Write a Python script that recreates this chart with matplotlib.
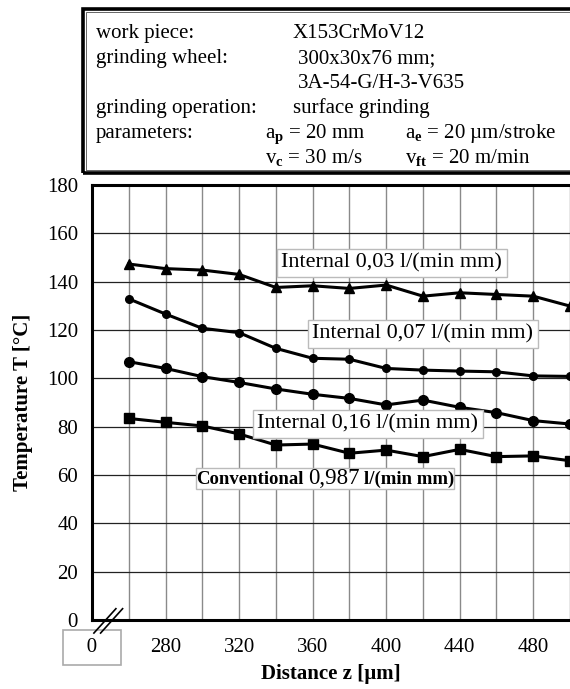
import matplotlib
matplotlib.use("Agg")
import matplotlib.pyplot as plt
from matplotlib.patches import Rectangle
from matplotlib.offsetbox import TextArea, HPacker, AnnotationBbox

plt.rcParams['font.family'] = ['Liberation Serif', 'DejaVu Serif']
plt.rcParams['mathtext.fontset'] = 'custom'
plt.rcParams['mathtext.rm'] = 'Liberation Serif'
plt.rcParams['mathtext.bf'] = 'Liberation Serif:bold'

# distance z in um, temperature in degC
z = [260, 280, 300, 320, 340, 360, 380, 400, 420, 440, 460, 480, 500]
t_int_003 = [147.3, 145.4, 144.8, 143.0, 137.6, 138.3, 137.2, 138.6, 134.0, 135.4, 134.7, 134.0, 129.9]
t_int_007 = [132.9, 126.6, 120.7, 118.9, 112.4, 108.3, 107.9, 104.1, 103.4, 103.0, 102.7, 101.0, 100.8]
t_int_016 = [106.9, 104.1, 100.7, 98.3, 95.6, 93.4, 91.7, 89.0, 91.0, 88.0, 85.8, 82.5, 81.1]
t_conv = [83.4, 81.8, 80.3, 77.0, 72.4, 72.8, 69.0, 70.3, 67.6, 70.6, 67.6, 67.9, 65.9]

xticks = list(range(240, 501, 20))
xticklabels = ['   0   ', '', '280', '', '320', '', '360', '', '400', '', '440', '', '480', '']
yticks = list(range(0, 181, 20))

fig = plt.figure(figsize=(5.7, 6.89), dpi=100)
ax = fig.add_axes([92/570, 69/689, 1 - 92/570, 435/689])

lw = 2.2
ax.plot(z, t_int_003, color='black', lw=lw, marker='^', ms=7.5, clip_on=False, zorder=3)
ax.plot(z, t_int_007, color='black', lw=lw, marker='o', ms=5.5, clip_on=False, zorder=3)
ax.plot(z, t_int_016, color='black', lw=lw, marker='o', ms=7, clip_on=False, zorder=3)
ax.plot(z, t_conv, color='black', lw=lw, marker='s', ms=7, clip_on=False, zorder=3)

ax.set_xlim(240, 500)
ax.set_ylim(0, 180)
ax.set_xticks(xticks)
ax.set_xticklabels(xticklabels)
ax.set_yticks(yticks)
ax.tick_params(length=0, labelsize=15)
ax.tick_params(axis='x', pad=13)
ax.tick_params(axis='y', pad=10)
ax.grid(axis='x', color='#8a8a8a', lw=1.0)
ax.grid(axis='y', color='#222222', lw=0.9)
ax.set_axisbelow(True)
for s in ['left', 'bottom', 'top']:
    ax.spines[s].set_linewidth(2.2)
ax.spines['right'].set_visible(False)

lbl0 = ax.get_xticklabels()[0]
lbl0.set_bbox(dict(boxstyle='square,pad=0.38', fc='white', ec='#aaaaaa', lw=1.2))

ax.set_ylabel('Temperature T [°C]', fontsize=15, fontweight='bold', labelpad=10)
ax.set_xlabel('Distance z [µm]', fontsize=15, fontweight='bold', labelpad=5)

# axis break marks
for dx in (0.0, 0.014):
    ax.plot([0.004 + dx, 0.05 + dx], [-0.03, 0.026], transform=ax.transAxes,
            color='black', lw=1.2, clip_on=False, zorder=5)

box = dict(boxstyle='square,pad=0.2', fc='white', ec='#bbbbbb', lw=1.0)
ax.text(403, 147.7, 'Internal 0,03 l/(min mm)', fontsize=16, ha='center', va='center', bbox=box, zorder=4)
ax.text(420, 118.3, 'Internal 0,07 l/(min mm)', fontsize=16, ha='center', va='center', bbox=box, zorder=4)
ax.text(390, 81.1, 'Internal 0,16 l/(min mm)', fontsize=16, ha='center', va='center', bbox=box, zorder=4)

parts = HPacker(children=[
    TextArea('Conventional', textprops=dict(fontsize=13.5, fontweight='bold')),
    TextArea('0,987', textprops=dict(fontsize=16.5)),
    TextArea('l/(min mm)', textprops=dict(fontsize=13.5, fontweight='bold')),
], sep=3, align='baseline')
ab = AnnotationBbox(parts, (366.8, 58.5), frameon=True, pad=0.25, zorder=4,
                    bboxprops=dict(fc='white', ec='#bbbbbb', lw=1.0, boxstyle='square,pad=0'))
ax.add_artist(ab)

# parameter box on top
W, H = 570, 689
fig.patches.append(Rectangle((83/W, 1 - 173/H), 1 - 83/W + 0.01, 164/H, transform=fig.transFigure,
                             fill=False, ec='black', lw=2.6))
fig.patches.append(Rectangle((86/W, 1 - 170/H), 1 - 86/W + 0.01, 158/H, transform=fig.transFigure,
                             fill=False, ec='#666666', lw=0.7))

def ftext(x, y, s):
    fig.text(x / W, 1 - y / H, s, fontsize=15, ha='left', va='baseline')

ftext(96, 38, 'work piece:')
ftext(293, 38, 'X153CrMoV12')
ftext(96, 63, 'grinding wheel:')
ftext(298, 63, '300x30x76 mm;')
ftext(298, 88, '3A-54-G/H-3-V635')
ftext(96, 113, 'grinding operation:')
ftext(293, 113, 'surface grinding')
ftext(96, 138, 'parameters:')
ftext(265, 138, r'a$_\mathbf{p}$ = 20 mm')
ftext(405, 138, r'a$_\mathbf{e}$ = 20 µm/stroke')
ftext(265, 163, r'v$_\mathbf{c}$ = 30 m/s')
ftext(405, 163, r'v$_\mathbf{ft}$ = 20 m/min')

fig.savefig('out.png', dpi=100)
